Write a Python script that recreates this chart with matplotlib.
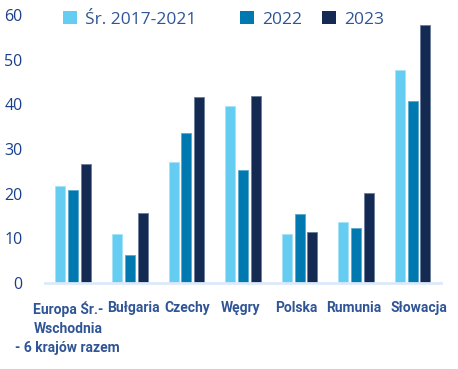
import matplotlib
matplotlib.use('Agg')
import matplotlib.pyplot as plt
from matplotlib.patches import Patch
from matplotlib.transforms import ScaledTranslation
import numpy as np

# Data
categories = ['Europa Śr.-\nWschodnia', 'Bułgaria', 'Czechy', 'Węgry',
              'Polska', 'Rumunia', 'Słowacja']
first_label_note = '- 6 krajów razem'
avg_2017_2021 = [21.7, 10.9, 27.1, 39.6, 10.9, 13.6, 47.7]
y2022 = [20.8, 6.3, 33.5, 25.3, 15.4, 12.3, 40.7]
y2023 = [26.7, 15.7, 41.6, 41.9, 11.4, 20.1, 57.9]
series_labels = ['Śr. 2017-2021', '2022', '2023']

plt.rcParams['font.family'] = ['Open Sans', 'DejaVu Sans']

def create_plot():
    fig = plt.figure(figsize=(4.58, 3.69), dpi=100)
    ax = fig.add_axes([0.098, 0.233, 0.865, 0.726])

    x = np.arange(len(categories))
    w = 0.177
    off = 0.225
    colors = ['#66cdf2', '#0079b1', '#142a52']
    edges = ['#a6e2f7', '#5aa9cf', '#6b7d99']
    for i, vals in enumerate([avg_2017_2021, y2022, y2023]):
        ax.bar(x + (i - 1) * off, vals, width=w, color=colors[i],
               edgecolor=edges[i], linewidth=0.6, zorder=2)

    ax.set_xlim(-0.5, 6.5)
    ax.set_ylim(0, 60)
    ax.set_yticks(range(0, 61, 10))
    ax.tick_params(axis='y', length=0, labelsize=11.5, labelcolor='#1a3f8a', pad=16)
    ax.tick_params(axis='x', length=0, pad=13)
    ax.set_xticks(x)
    ax.set_xticklabels(categories, fontsize=10, fontweight='bold', color='#2f5596',
                       family=['Roboto', 'DejaVu Sans'], linespacing=1.45, va='top')
    # small horizontal nudges of the category labels (pixels)
    nudges = [-4.5, 4, 1.3, -2.8, -3.4, -2.5, 6]
    for lbl, dx in zip(ax.get_xticklabels(), nudges):
        lbl.set_transform(lbl.get_transform() + ScaledTranslation(dx / 100, 0, fig.dpi_scale_trans))

    # third line of the first label, wider than the column
    ax.text(-0.097, -0.2425, first_label_note, transform=ax.get_xaxis_transform(),
            ha='center', va='center', fontsize=10, fontweight='bold', color='#2f5596',
            family=['Roboto', 'DejaVu Sans'])

    for s in ['top', 'right', 'left']:
        ax.spines[s].set_visible(False)
    ax.spines['bottom'].set_color('#dde9fb')
    ax.spines['bottom'].set_linewidth(2)

    # legend entries placed one by one, like in the source
    marker_x = [63, 240, 322]
    for i in range(3):
        h = Patch(facecolor=colors[i], edgecolor='none')
        fig.legend([h], [series_labels[i]], loc='center left',
                   bbox_to_anchor=(marker_x[i] / 458, 1 - 19.5 / 369),
                   frameon=False, fontsize=12.5, handlelength=0.8, handleheight=0.8,
                   handletextpad=0.45, borderpad=0, borderaxespad=0,
                   labelcolor='#2f5596')
    return fig

if __name__ == "__main__":
    fig = create_plot()
    fig.savefig('out.png', dpi=100)
